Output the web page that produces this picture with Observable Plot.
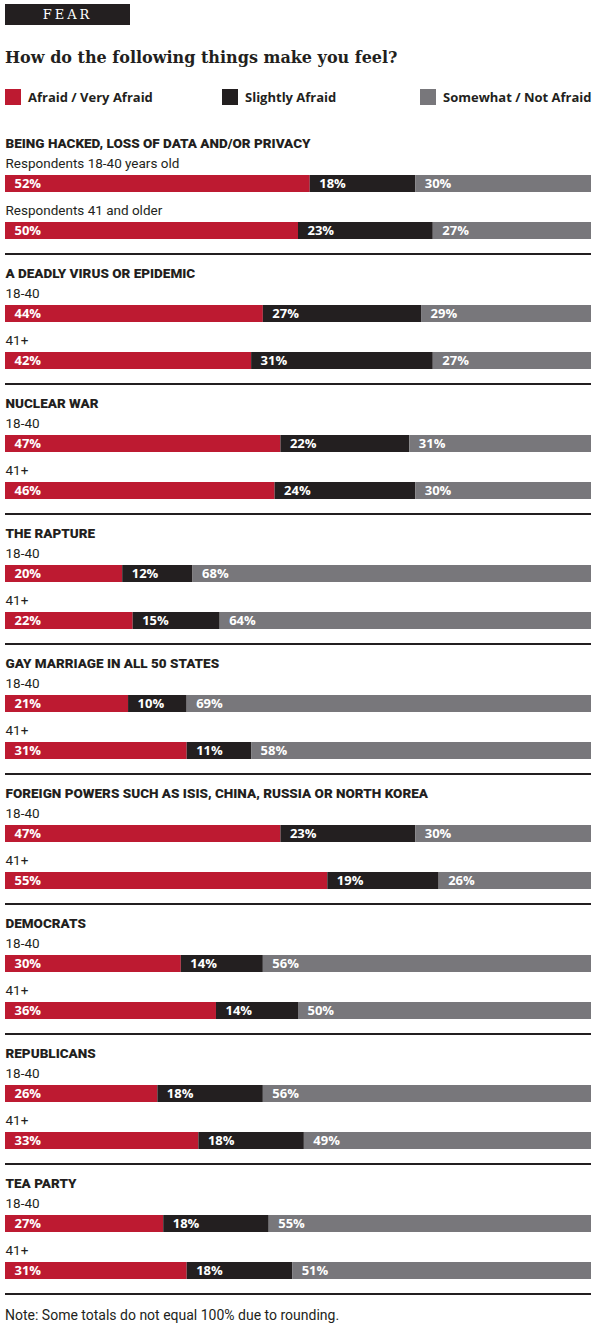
<!DOCTYPE html>
<html>
<head>
<meta charset="utf-8">
<script src="https://cdn.jsdelivr.net/npm/d3@7"></script>
<script src="https://cdn.jsdelivr.net/npm/@observablehq/plot@0.6"></script>
<style>
  html, body { margin: 0; padding: 0; background: #fff; }
  body { width: 600px; font-family: Roboto, "Open Sans", sans-serif; color: #231f20; }
  .kicker { position: absolute; left: 5px; top: 4px; width: 125px; height: 21px; background: #231f20; color: #fff;
    font: 13px "DejaVu Serif", serif; letter-spacing: 3px; text-align: center; line-height: 21px; }
  .title { position: absolute; left: 5px; top: 48px; font: bold 16px "DejaVu Serif", serif; white-space: nowrap; }
  .legend { position: absolute; left: 5px; top: 88px; width: 586px; height: 17px; font: bold 13px "Open Sans", sans-serif; }
  .legend .item { position: absolute; top: 0; display: flex; align-items: center; height: 17px; white-space: nowrap; }
  .legend .sw { width: 16px; height: 16px; margin-right: 7px; flex: none; }
  #chart { position: absolute; left: 0; top: 117px; }
  .note { position: absolute; left: 5px; top: 1307px; font: 14px Roboto, sans-serif; color: #231f20; }
</style>
</head>
<body>
<div class="kicker">FEAR</div>
<div class="title">How do the following things make you feel?</div>
<div class="legend" id="legend"></div>
<div id="chart"></div>
<div class="note">Note: Some totals do not equal 100% due to rounding.</div>
<script>
const topics = [
  "BEING HACKED, LOSS OF DATA AND/OR PRIVACY",
  "A DEADLY VIRUS OR EPIDEMIC",
  "NUCLEAR WAR",
  "THE RAPTURE",
  "GAY MARRIAGE IN ALL 50 STATES",
  "FOREIGN POWERS SUCH AS ISIS, CHINA, RUSSIA OR NORTH KOREA",
  "DEMOCRATS",
  "REPUBLICANS",
  "TEA PARTY"
];
const ages = ["18-40", "41+"];
const rowLabels = [
  "Respondents 18-40 years old", "Respondents 41 and older",
  "18-40", "41+", "18-40", "41+", "18-40", "41+", "18-40", "41+",
  "18-40", "41+", "18-40", "41+", "18-40", "41+", "18-40", "41+"
];
const responses = ["Afraid / Very Afraid", "Slightly Afraid", "Somewhat / Not Afraid"];
const colors = ["#bd1a31", "#231f20", "#78777b"];
const afraid    = [52, 50, 44, 42, 47, 46, 20, 22, 21, 31, 47, 55, 30, 36, 26, 33, 27, 31];
const slightly  = [18, 23, 27, 31, 22, 24, 12, 15, 10, 11, 23, 19, 14, 14, 18, 18, 18, 18];
const notAfraid = [30, 27, 29, 27, 31, 30, 68, 64, 69, 58, 30, 26, 56, 50, 56, 49, 55, 51];

const series = [afraid, slightly, notAfraid];
const data = [];
rowLabels.forEach((label, i) => {
  const topic = topics[Math.floor(i / 2)];
  const age = ages[i % 2];
  series.forEach((vals, k) => data.push({topic, age, label, resp: responses[k], value: vals[i]}));
});
const rows = rowLabels.map((label, i) => ({topic: topics[Math.floor(i / 2)], age: ages[i % 2], label}));

// legend
const legendPos = [0, 217, 415];
const legend = document.getElementById("legend");
responses.forEach((r, k) => {
  const it = document.createElement("div");
  it.className = "item";
  it.style.left = legendPos[k] + "px";
  it.innerHTML = `<span class="sw" style="background:${colors[k]}"></span><span>${r}</span>`;
  legend.appendChild(it);
});

const stackOpts = {x: "value", y: "age", fy: "topic", z: "resp", offset: "normalize"};

const chart = Plot.plot({
  width: 600,
  height: 1183,
  marginLeft: 5,
  marginRight: 9,
  marginTop: 4,
  marginBottom: 6,
  facet: {marginTop: 0, marginBottom: 0, marginLeft: 0, marginRight: 0},
  fy: {domain: topics, padding: 0, axis: null},
  y: {domain: ages, paddingInner: 0.6458, paddingOuter: 0.6806, align: 0.788, axis: null},
  x: {domain: [0, 1], axis: null},
  color: {domain: responses, range: colors},
  style: {fontFamily: "Roboto, sans-serif", background: "transparent"},
  marks: [
    Plot.barX(data, Plot.stackX({...stackOpts, fill: "resp"})),
    Plot.text(data, Plot.stackX1({...stackOpts, text: d => d.value + "%", textAnchor: "start", dx: 9,
      fill: "white", fontWeight: "bold", fontSize: 13, fontFamily: "Open Sans, sans-serif"})),
    Plot.text(rows, {fy: "topic", y: "age", x: () => 0, text: "label", textAnchor: "start", dy: -20,
      fontSize: 13.5, fill: "#231f20"}),
    Plot.text(topics, {fy: d => d, y: () => "18-40", x: () => 0, text: d => d, textAnchor: "start", dy: -40,
      fontSize: 13.5, fontWeight: 900, fill: "#231f20"}),
    Plot.ruleY(topics, {fy: d => d, y: () => "41+", dy: 23, stroke: "#231f20", strokeWidth: 2})
  ]
});
document.getElementById("chart").appendChild(chart);
</script>
</body>
</html>
